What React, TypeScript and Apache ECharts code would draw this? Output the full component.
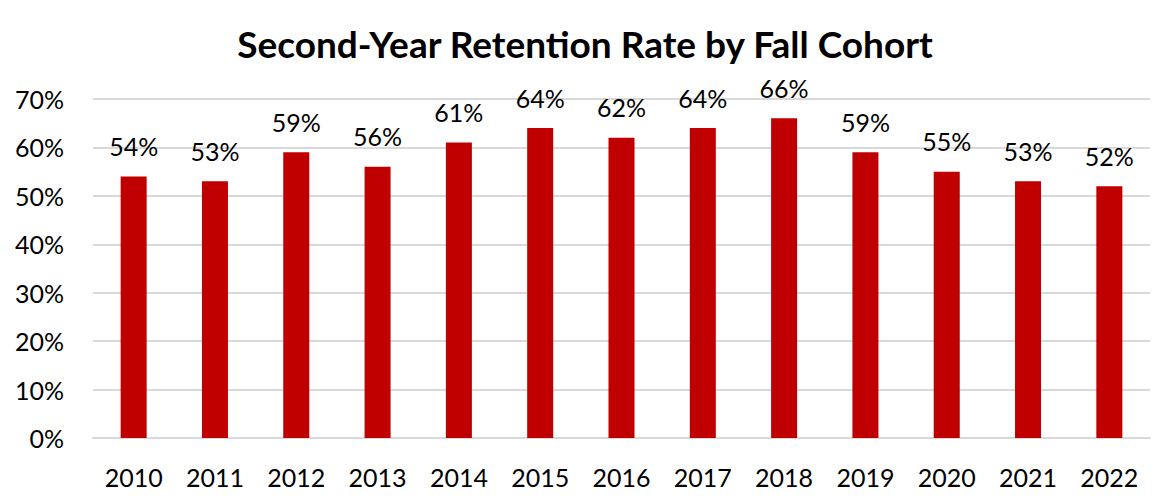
import React, { useEffect, useRef } from "react";
import * as echarts from "echarts";

const categories = ["2010","2011","2012","2013","2014","2015","2016","2017","2018","2019","2020","2021","2022"];
const retention = [54, 53, 59, 56, 61, 64, 62, 64, 66, 59, 55, 53, 52];
const yTicks = { min: 0, max: 70, interval: 10 };

export default function App() {
  const ref = useRef<HTMLDivElement>(null);
  useEffect(() => {
    const chart = echarts.init(ref.current!, null, { renderer: "svg" });
    const font = "Lato, 'Noto Sans', sans-serif";
    chart.setOption({
      animation: false,
      backgroundColor: "#ffffff",
      title: {
        text: "Second-Year Retention Rate by Fall Cohort",
        left: "center",
        top: 12,
        textStyle: { fontFamily: font, fontWeight: "bold", fontSize: 37, color: "#000" },
      },
      grid: { left: 85, right: 12, top: 91, bottom: 56, containLabel: false },
      xAxis: {
        type: "category",
        data: categories,
        axisLine: { show: true, lineStyle: { color: "#d9d9d9", width: 2 } },
        axisTick: { show: false },
        axisLabel: { fontFamily: font, fontSize: 25, color: "#000", margin: 26 },
      },
      yAxis: {
        type: "value",
        min: yTicks.min,
        max: yTicks.max,
        interval: yTicks.interval,
        axisLine: { show: false },
        axisTick: { show: false },
        splitLine: { lineStyle: { color: "#d9d9d9", width: 2 } },
        axisLabel: { fontFamily: font, fontSize: 25, color: "#000", margin: 29, formatter: "{value}%" },
      },
      series: [
        {
          type: "bar",
          data: retention,
          barWidth: "32%",
          itemStyle: { color: "#C00000" },
          label: {
            show: true,
            position: "top",
            distance: 18,
            formatter: "{c}%",
            fontFamily: font,
            fontSize: 25,
            color: "#000",
          },
        },
      ],
    });
    return () => chart.dispose();
  }, []);
  return <div ref={ref} style={{ width: 1154, height: 486 }} />;
}
